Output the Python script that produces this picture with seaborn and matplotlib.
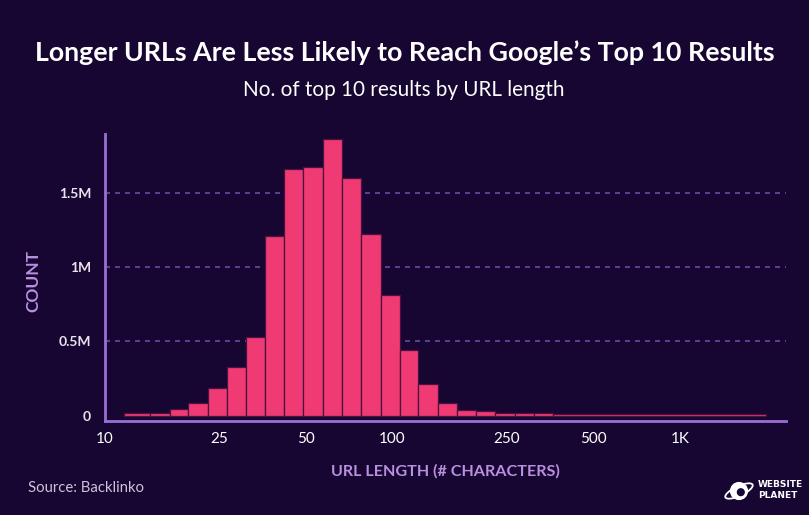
import matplotlib
matplotlib.use("Agg")
import matplotlib.pyplot as plt
import seaborn as sns
import numpy as np
import pandas as pd
from matplotlib.patches import Circle, Ellipse

# url length bins (# characters) and number of top 10 results in each bin
bin_edges = [11.6, 14.3, 16.8, 19.5, 22.8, 26.6, 30.9, 36.0, 42.1, 49.0, 57.1, 66.7,
             77.7, 90.9, 105.8, 123.1, 143.4, 167.6, 195.2, 227.3, 265.7, 309.4, 360.2, 1990]
counts = [16000, 16000, 45000, 87000, 190000, 327000, 530000, 1208000, 1660000,
          1671000, 1859000, 1597000, 1223000, 812000, 443000, 215000, 83000, 38000,
          34000, 18000, 18000, 18000, 14000]

x_ticks = [10, 25, 50, 100, 250, 500, 1000]
x_tick_labels = ["10", "25", "50", "100", "250", "500", "1K"]
y_ticks = [0, 500000, 1000000, 1500000]
y_tick_labels = ["0", "0.5M", "1M", "1.5M"]

bg = "#170631"
bar_color = "#ef3a74"
axis_color = "#9a6fd4"
grid_color = "#5b3f8f"
label_color = "#b98fe0"

sns.set_style("dark")
plt.rcParams["font.family"] = ["Lato", "DejaVu Sans"]

W, H = 809, 515
fig = plt.figure(figsize=(W / 100, H / 100), dpi=100, facecolor=bg)
ax = fig.add_axes([105 / W, 1 - 421 / H, 681 / W, 287 / H])
ax.set_facecolor(bg)

# histogram drawn in log10 space so the bins are evenly spaced
edges = np.array(bin_edges)
df = pd.DataFrame({
    "log_len": np.log10(np.sqrt(edges[:-1] * edges[1:])),
    "count": counts,
})
sns.histplot(data=df, x="log_len", weights="count", bins=list(np.log10(edges)),
             color=bar_color, alpha=1, edgecolor="#4a1240", linewidth=0.9, ax=ax)

ax.set_xlim(1, np.log10(2337))
ax.set_ylim(-35000, 1893000)
ax.set_xticks(np.log10(x_ticks))
ax.set_xticklabels(x_tick_labels, color="white", fontsize=11)
ax.set_yticks(y_ticks)
ax.set_yticklabels(y_tick_labels, color="#e8e4ee", fontsize=10, fontweight="bold")
ax.tick_params(axis="both", length=0)
ax.tick_params(axis="y", pad=10)
ax.tick_params(axis="x", pad=8)
ax.set_xlabel("")
ax.set_ylabel("")

ax.grid(False)
ax.yaxis.grid(True, linestyle=(0, (2.4, 2.4)), color=grid_color, linewidth=1.5)
ax.set_axisbelow(True)
# no gridline on the baseline
ax.get_ygridlines()[0].set_visible(False)

for side in ["top", "right"]:
    ax.spines[side].set_visible(False)
for side in ["left", "bottom"]:
    ax.spines[side].set_visible(True)
    ax.spines[side].set_color(axis_color)
    ax.spines[side].set_linewidth(2)

# titles and labels
fig.text(405 / W, 1 - 53 / H, "Longer URLs Are Less Likely to Reach Google\u2019s Top 10 Results",
         ha="center", va="center", color="white", fontsize=19.3, fontweight="bold")
fig.text(404 / W, 1 - 90 / H, "No. of top 10 results by URL length",
         ha="center", va="center", color="white", fontsize=14.9)
fig.text(33 / W, 1 - 281 / H, "COUNT", rotation=90, ha="center", va="center",
         color=label_color, fontsize=12.5, fontweight="bold")
fig.text(445 / W, 1 - 471 / H, "URL LENGTH (# CHARACTERS)", ha="center", va="center",
         color=label_color, fontsize=11.6, fontweight="bold")
fig.text(28 / W, 1 - 488 / H, "Source: Backlinko", ha="left", va="center",
         color="#cdc2dc", fontsize=10.7)

# logo
fig.text(758 / W, 1 - 490 / H, "WEBSITE\nPLANET", ha="left", va="center",
         color="white", fontsize=6.5, fontweight="bold", linespacing=1.3,
         family=["DejaVu Sans"])
lax = fig.add_axes([722 / W, 1 - 503 / H, 34 / W, 24 / H])
lax.set_xlim(-1.4, 1.4)
lax.set_ylim(-1, 1)
lax.set_aspect("equal")
lax.axis("off")
lax.add_patch(Circle((0, 0), 0.7, color="white"))
lax.add_patch(Ellipse((0, 0), 2.5, 0.8, angle=25, fill=False, edgecolor="white", linewidth=1.3))
lax.add_patch(Circle((0.15, -0.1), 0.28, color=bg))

fig.savefig("out.png", dpi=100, facecolor=bg)
